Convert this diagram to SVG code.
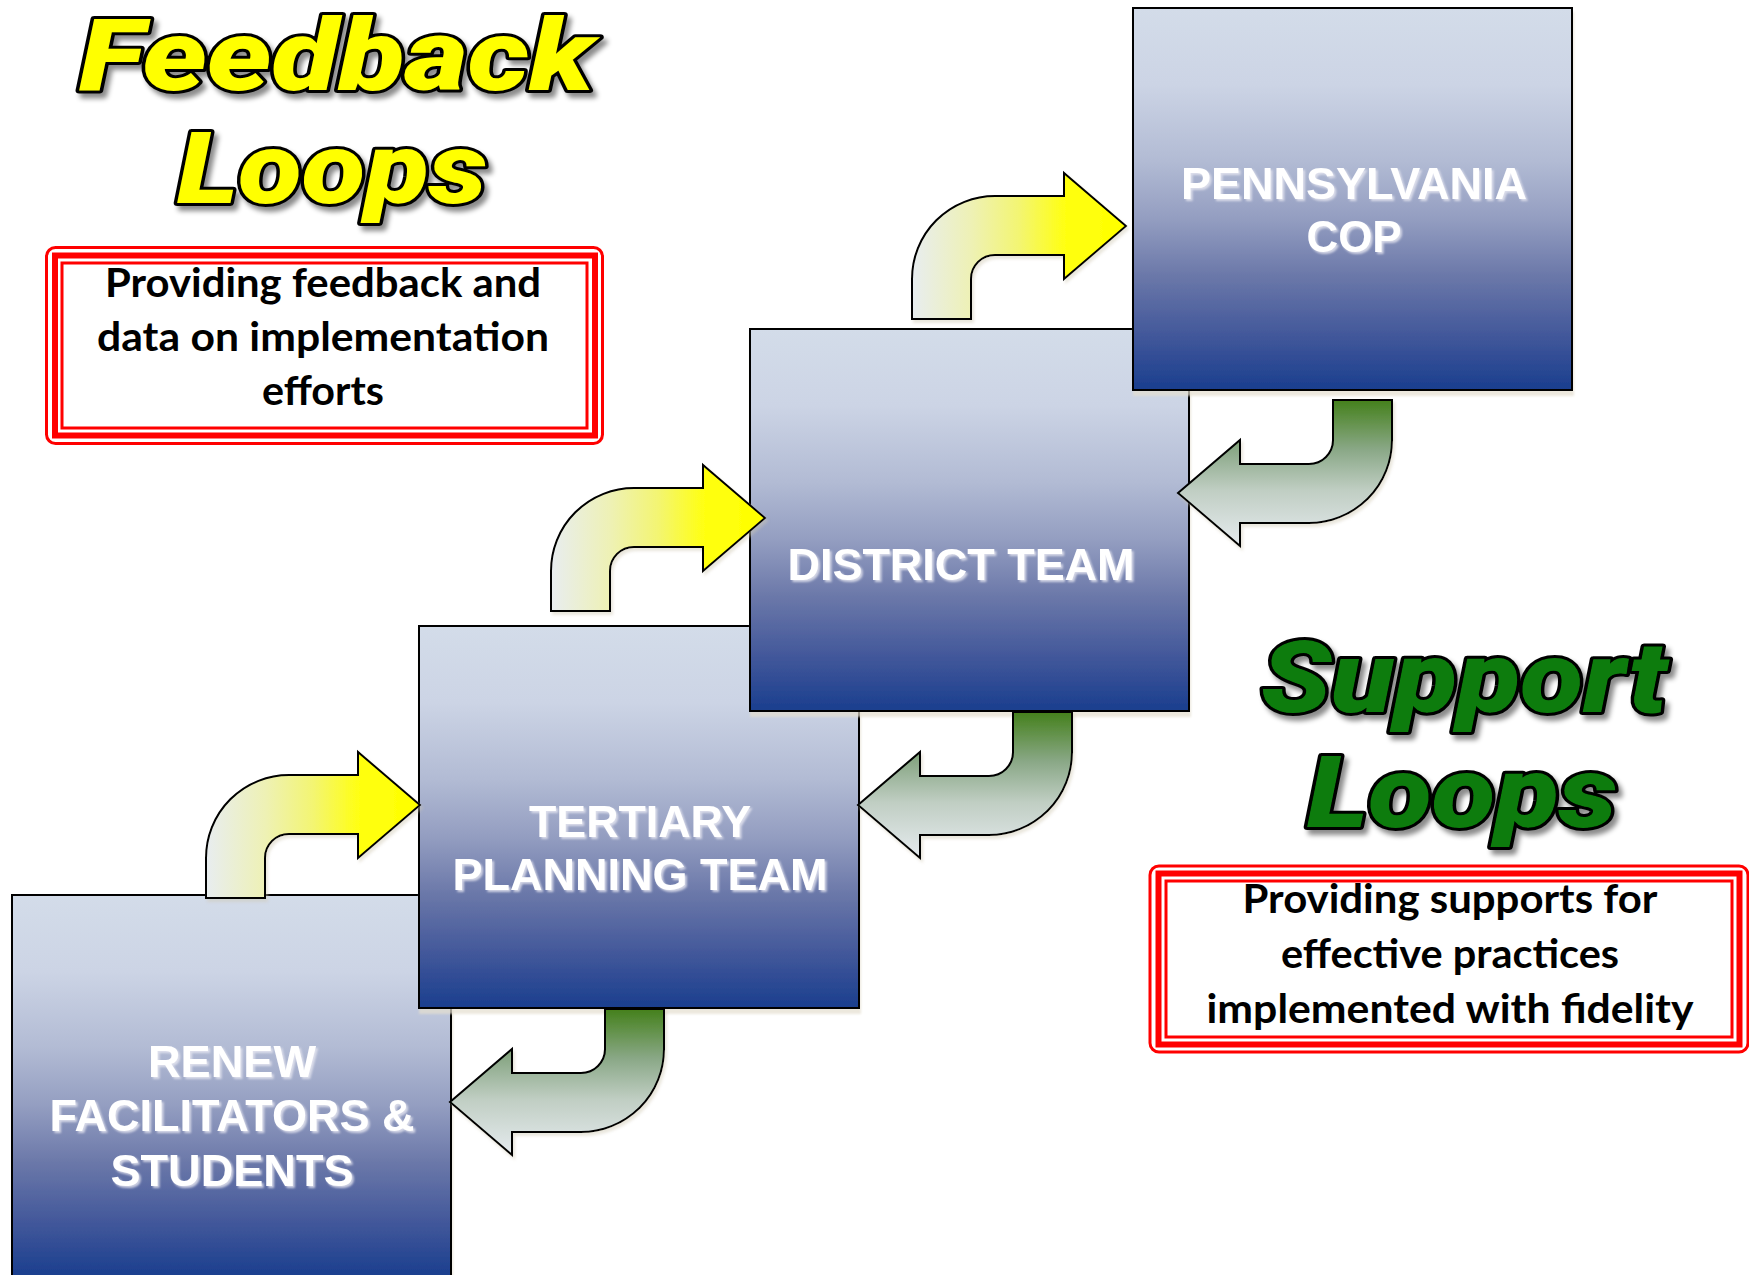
<svg xmlns="http://www.w3.org/2000/svg" width="1749" height="1275" viewBox="0 0 1749 1275">
  <defs>
    <!-- team boxes: pale steel at the top fading to navy -->
    <linearGradient id="boxFill" x1="0" y1="0" x2="0" y2="1">
      <stop offset="0" stop-color="#d3dce9"/>
      <stop offset="0.2" stop-color="#ccd4e5"/>
      <stop offset="0.4" stop-color="#b2bbd4"/>
      <stop offset="0.55" stop-color="#949ec1"/>
      <stop offset="0.7" stop-color="#6b78a9"/>
      <stop offset="0.85" stop-color="#44599b"/>
      <stop offset="1" stop-color="#1a3e8e"/>
    </linearGradient>
    <!-- feedback arrows: pale at the stem, bright yellow at the head -->
    <linearGradient id="feedFill" x1="0" y1="0" x2="1" y2="0">
      <stop offset="0" stop-color="#e8edf0"/>
      <stop offset="0.28" stop-color="#eef1b4"/>
      <stop offset="0.5" stop-color="#f3f572"/>
      <stop offset="0.72" stop-color="#ffff10"/>
      <stop offset="1" stop-color="#ffff00"/>
    </linearGradient>
    <!-- support arrows (drawn rotated): local top is the pale end -->
    <linearGradient id="supportFill" x1="0" y1="0" x2="0" y2="1">
      <stop offset="0" stop-color="#e6ebef"/>
      <stop offset="0.38" stop-color="#c0cec3"/>
      <stop offset="0.66" stop-color="#8aa887"/>
      <stop offset="1" stop-color="#44801b"/>
    </linearGradient>

    <!-- bent arrow: stem bottom-left, bends up and to the right, head points right -->
    <path id="bent" d="M 0 146 L 0 106 A 83 83 0 0 1 83 23 L 152 23 L 152 0 L 214 53 L 152 106 L 152 82 L 83 82 A 24 24 0 0 0 59 106 L 59 146 Z"/>

    <filter id="boxShadow" x="-5%" y="-5%" width="112%" height="112%">
      <feDropShadow dx="1" dy="5" stdDeviation="1" flood-color="#e4dfcf" flood-opacity="0.7"/>
    </filter>
    <filter id="arrowShadow" x="-10%" y="-10%" width="125%" height="125%">
      <feDropShadow dx="2" dy="3" stdDeviation="1.5" flood-color="#cfc9b4" flood-opacity="0.45"/>
    </filter>
    <filter id="glow" x="-10%" y="-20%" width="125%" height="150%">
      <feDropShadow dx="2" dy="2" stdDeviation="1.3" flood-color="#e9e9f2" flood-opacity="0.8"/>
    </filter>
    <filter id="titleShadow" x="-10%" y="-20%" width="125%" height="150%">
      <feDropShadow dx="4" dy="5" stdDeviation="2.5" flood-color="#000" flood-opacity="0.45"/>
    </filter>
  </defs>

  <style>
    .box { fill: url(#boxFill); stroke: #000; stroke-width: 2; filter: url(#boxShadow); }
    .lbl { font-family: "Liberation Sans", Arial, sans-serif; font-weight: 700; font-size: 45px; fill: #ffffff; text-anchor: middle; filter: url(#glow); }
    .feed { fill: url(#feedFill); stroke: #000; stroke-width: 2; }
    .support { fill: url(#supportFill); stroke: #000; stroke-width: 2; }
    .title { font-family: Roboto, "Liberation Sans", Arial, sans-serif; font-weight: 900; font-style: italic; font-size: 100px; stroke: #000; stroke-width: 6; stroke-linejoin: round; paint-order: stroke; filter: url(#titleShadow); }
    .yellow { fill: #ffff00; }
    .green { fill: #0b7c0b; }
    .frame { fill: none; stroke: #ff0000; }
    .note { font-family: Lato, "Liberation Sans", Arial, sans-serif; font-weight: 700; font-size: 40px; fill: #000; text-anchor: middle; }
  </style>

  <rect width="1749" height="1275" fill="#ffffff"/>

  <!-- Feedback Loops heading and caption -->
  <g id="feedback-title">
    <text class="title yellow" x="79" y="90" textLength="515" lengthAdjust="spacingAndGlyphs">Feedback</text>
    <text class="title yellow" x="177" y="203" textLength="310" lengthAdjust="spacingAndGlyphs">Loops</text>
  </g>
  <g id="feedback-note">
    <rect x="46.5" y="247.5" width="556" height="196" rx="9" fill="#fff" class="frame" stroke-width="3"/>
    <rect x="55" y="255.5" width="540" height="180" class="frame" stroke-width="6"/>
    <rect x="62" y="263" width="525" height="165" class="frame" stroke-width="3"/>
    <text class="note" x="323" y="297" textLength="436" lengthAdjust="spacingAndGlyphs">Providing feedback and</text>
    <text class="note" x="323" y="351" textLength="452" lengthAdjust="spacingAndGlyphs">data on implementation</text>
    <text class="note" x="323" y="405" textLength="122" lengthAdjust="spacingAndGlyphs">efforts</text>
  </g>

  <!-- Support Loops heading and caption -->
  <g id="support-title">
    <text class="title green" x="1261" y="712" textLength="406" lengthAdjust="spacingAndGlyphs">Support</text>
    <text class="title green" x="1307" y="827" textLength="310" lengthAdjust="spacingAndGlyphs">Loops</text>
  </g>
  <g id="support-note">
    <rect x="1150" y="866" width="598" height="186" rx="9" fill="#fff" class="frame" stroke-width="3"/>
    <rect x="1158.5" y="873.5" width="581" height="171" class="frame" stroke-width="6"/>
    <rect x="1166" y="881" width="566" height="156" class="frame" stroke-width="3"/>
    <text class="note" x="1450" y="913" textLength="415" lengthAdjust="spacingAndGlyphs">Providing supports for</text>
    <text class="note" x="1450" y="968" textLength="338" lengthAdjust="spacingAndGlyphs">effective practices</text>
    <text class="note" x="1450" y="1023" textLength="487" lengthAdjust="spacingAndGlyphs">implemented with fidelity</text>
  </g>

  <!-- team boxes, lowest first so each higher level overlaps the one below -->
  <g id="renew">
    <rect class="box" x="12" y="895" width="439" height="382"/>
    <text class="lbl" x="232" y="1077" textLength="168" lengthAdjust="spacingAndGlyphs">RENEW</text>
    <text class="lbl" x="232" y="1131" textLength="365" lengthAdjust="spacingAndGlyphs">FACILITATORS &amp;</text>
    <text class="lbl" x="232" y="1186" textLength="243" lengthAdjust="spacingAndGlyphs">STUDENTS</text>
  </g>
  <g id="tertiary">
    <rect class="box" x="419" y="626" width="440" height="382"/>
    <text class="lbl" x="640" y="837" textLength="222" lengthAdjust="spacingAndGlyphs">TERTIARY</text>
    <text class="lbl" x="640" y="890" textLength="375" lengthAdjust="spacingAndGlyphs">PLANNING TEAM</text>
  </g>
  <g id="district">
    <rect class="box" x="750" y="329" width="439" height="382"/>
    <text class="lbl" x="961" y="580" textLength="347" lengthAdjust="spacingAndGlyphs">DISTRICT TEAM</text>
  </g>
  <g id="pa-cop">
    <rect class="box" x="1133" y="8" width="439" height="382"/>
    <text class="lbl" x="1354" y="199" textLength="346" lengthAdjust="spacingAndGlyphs">PENNSYLVANIA</text>
    <text class="lbl" x="1354" y="252" textLength="95" lengthAdjust="spacingAndGlyphs">COP</text>
  </g>

  <!-- loops between levels -->
  <g id="connectors" filter="url(#arrowShadow)">
    <!-- feedback: up to the next level -->
    <use href="#bent" class="feed" transform="translate(206 752)"/>
    <use href="#bent" class="feed" transform="translate(551 465)"/>
    <use href="#bent" class="feed" transform="translate(912 173)"/>
    <!-- support: down to the level below -->
    <use href="#bent" class="support" transform="translate(1392 546) rotate(180)"/>
    <use href="#bent" class="support" transform="translate(1072 858) rotate(180)"/>
    <use href="#bent" class="support" transform="translate(664 1155) rotate(180)"/>
  </g>
</svg>
